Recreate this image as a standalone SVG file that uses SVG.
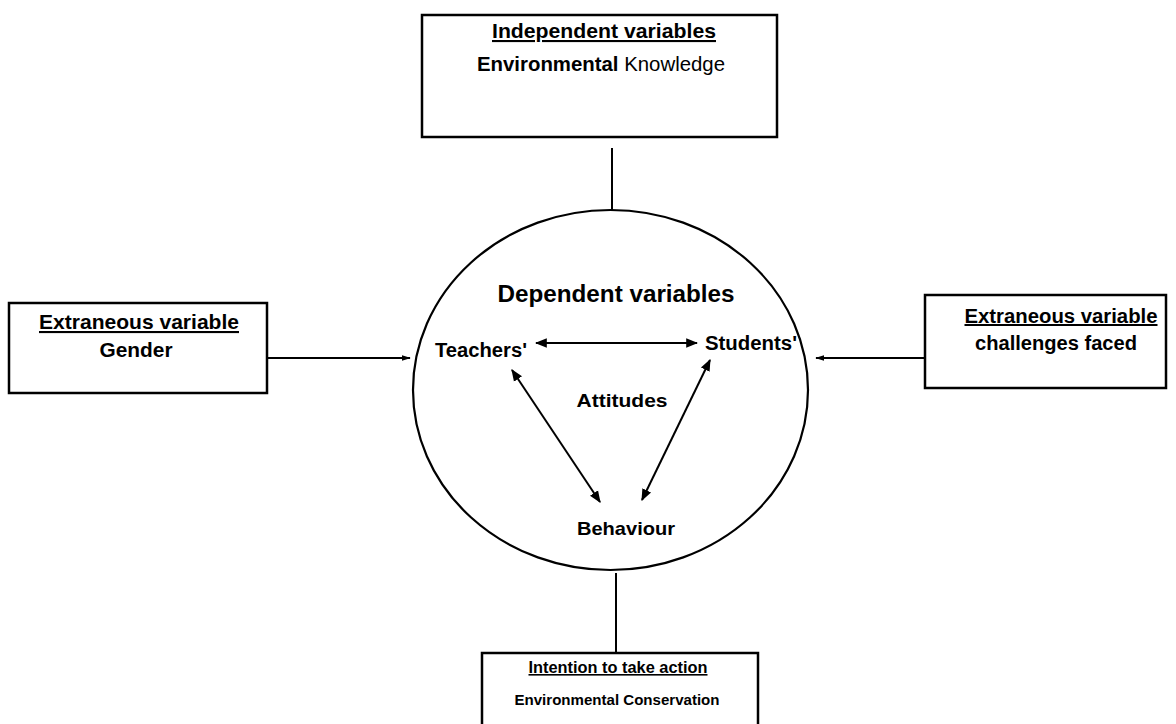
<svg xmlns="http://www.w3.org/2000/svg" width="1176" height="724" viewBox="0 0 1176 724">
  <style>
    .box { fill: #fff; stroke: #000; stroke-width: 2.5; }
    .t { font-family: "Liberation Sans", Arial, sans-serif; fill: #000; text-anchor: middle; }
    .b { font-weight: bold; }
    .u { text-decoration: underline; }
    .ln { stroke: #000; stroke-width: 2; fill: none; }
  </style>
  <defs>
    <marker id="ah" viewBox="0 0 10 10" refX="9" refY="5" markerWidth="6" markerHeight="6" orient="auto-start-reverse" markerUnits="strokeWidth">
      <path d="M0,1 L10,5 L0,9 Z" fill="#000"/>
    </marker>
    <marker id="ahs" viewBox="0 0 10 10" refX="9" refY="5" markerWidth="4.5" markerHeight="4.5" orient="auto-start-reverse" markerUnits="strokeWidth">
      <path d="M0,2 L10,5 L0,8 Z" fill="#000"/>
    </marker>
  </defs>
  <rect width="1176" height="724" fill="#fff"/>

  <g id="connectors">
    <line class="ln" x1="612" y1="148" x2="612" y2="210" stroke-width="2.5"/>
    <line class="ln" x1="267" y1="358" x2="410" y2="358" marker-end="url(#ahs)"/>
    <line class="ln" x1="925" y1="358" x2="816" y2="358" marker-end="url(#ahs)"/>
    <line class="ln" x1="616" y1="573" x2="616" y2="652" stroke-width="3.5"/>
    <line class="ln" x1="536" y1="343" x2="697" y2="343" marker-start="url(#ah)" marker-end="url(#ah)"/>
    <line class="ln" x1="512" y1="370" x2="600" y2="502" marker-start="url(#ah)" marker-end="url(#ah)"/>
    <line class="ln" x1="710" y1="360" x2="642" y2="500" marker-start="url(#ah)" marker-end="url(#ah)"/>
  </g>

  <g id="independent">
    <rect class="box" x="422" y="15" width="355" height="122"/>
    <text class="t b u" x="604" y="38" font-size="21" textLength="224" lengthAdjust="spacingAndGlyphs">Independent variables</text>
    <text class="t" x="601" y="71" font-size="20" textLength="248" lengthAdjust="spacingAndGlyphs"><tspan class="b">Environmental</tspan>  Knowledge</text>
  </g>

  <g id="extraneous-gender">
    <rect class="box" x="9" y="303" width="258" height="90"/>
    <text class="t b u" x="139" y="329" font-size="21" textLength="200" lengthAdjust="spacingAndGlyphs">Extraneous variable</text>
    <text class="t b" x="136" y="357" font-size="21" textLength="73" lengthAdjust="spacingAndGlyphs">Gender</text>
  </g>

  <g id="extraneous-challenges">
    <rect class="box" x="925" y="295" width="241" height="93"/>
    <text class="t b u" x="1061" y="323" font-size="20" textLength="193" lengthAdjust="spacingAndGlyphs">Extraneous variable</text>
    <text class="t b" x="1056" y="350" font-size="20" textLength="162" lengthAdjust="spacingAndGlyphs">challenges faced</text>
  </g>

  <g id="dependent">
    <ellipse cx="610.5" cy="390" rx="197.5" ry="180" fill="none" stroke="#000" stroke-width="2.2"/>
    <text class="t b" x="616" y="302" font-size="23" textLength="237" lengthAdjust="spacingAndGlyphs">Dependent variables</text>
    <text class="t b" x="481" y="357" font-size="20" textLength="92" lengthAdjust="spacingAndGlyphs">Teachers'</text>
    <text class="t b" x="751" y="350" font-size="20" textLength="92" lengthAdjust="spacingAndGlyphs">Students'</text>
    <text class="t b" x="622" y="407" font-size="19" textLength="91" lengthAdjust="spacingAndGlyphs">Attitudes</text>
    <text class="t b" x="626" y="535" font-size="19" textLength="98" lengthAdjust="spacingAndGlyphs">Behaviour</text>
  </g>

  <g id="intention">
    <rect class="box" x="482" y="653" width="276" height="80"/>
    <text class="t b u" x="618" y="673" font-size="16" textLength="179" lengthAdjust="spacingAndGlyphs">Intention to take action</text>
    <text class="t b" x="617" y="705" font-size="15" textLength="205" lengthAdjust="spacingAndGlyphs">Environmental Conservation</text>
  </g>
</svg>
